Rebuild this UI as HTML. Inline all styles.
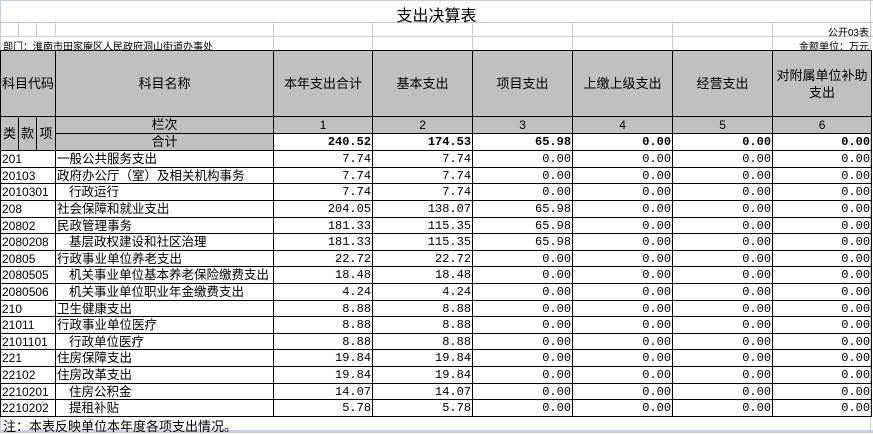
<!DOCTYPE html>
<html><head><meta charset="utf-8">
<style>
*{margin:0;padding:0;box-sizing:border-box}
body{width:873px;height:433px;background:#fff;position:relative;overflow:hidden;font-family:"Liberation Sans","Noto Sans CJK SC",sans-serif;color:#000}
.g{position:absolute;background:#c5cde0}
.t{position:absolute;white-space:nowrap}
table{position:absolute;left:0;top:50px;border-collapse:collapse;table-layout:fixed;width:871px}
td{border:1px solid #000;overflow:hidden;white-space:nowrap;font-size:12px;padding:0 1px;line-height:14px}
.h td{background:#c0c0c0;text-align:center;font-size:13px;height:66px;line-height:17px}
.gr{background:#c0c0c0;text-align:center}
.n{text-align:right;font-family:"Liberation Mono",monospace;font-size:12px}
.b{font-weight:bold}
.c{font-size:12px;padding-left:1px}
.nm{font-size:12.5px;padding-left:1px}
.i{padding-left:13px}
</style></head><body>
<div class="g" style="left:0;top:0;width:873px;height:1px"></div>
<div class="g" style="left:0;top:22px;width:873px;height:1px"></div>
<div class="g" style="left:0;top:36px;width:873px;height:1px"></div>
<div class="g" style="left:0;top:0;width:1px;height:433px"></div>
<div class="g" style="left:870px;top:0;width:1px;height:433px"></div>
<div class="g" style="left:18px;top:22px;width:1px;height:14px"></div>
<div class="g" style="left:36px;top:22px;width:1px;height:14px"></div>
<div class="g" style="left:55px;top:22px;width:1px;height:14px"></div>
<div class="g" style="left:273px;top:22px;width:1px;height:28px"></div>
<div class="g" style="left:372px;top:22px;width:1px;height:28px"></div>
<div class="g" style="left:472px;top:22px;width:1px;height:28px"></div>
<div class="g" style="left:572px;top:22px;width:1px;height:28px"></div>
<div class="g" style="left:672px;top:22px;width:1px;height:28px"></div>
<div class="g" style="left:772px;top:22px;width:1px;height:28px"></div>
<div class="g" style="left:0;top:430px;width:873px;height:3px"></div>
<div class="t" style="left:0;width:873px;text-align:center;top:2px;font-size:16px">支出决算表</div>
<div class="t" style="right:4px;top:24px;font-size:10px">公开03表</div>
<div class="t" style="left:3px;top:38px;font-size:10px">部门：淮南市田家庵区人民政府洞山街道办事处</div>
<div class="t" style="right:4px;top:38px;font-size:10px">金额单位：万元</div>
<table>
<colgroup><col style="width:18px"><col style="width:18px"><col style="width:19px"><col style="width:218px"><col style="width:99px"><col style="width:100px"><col style="width:100px"><col style="width:100px"><col style="width:100px"><col style="width:99px"></colgroup>
<tr class="h"><td colspan="3">科目代码</td><td>科目名称</td><td>本年支出合计</td><td>基本支出</td><td>项目支出</td><td>上缴上级支出</td><td>经营支出</td><td>对附属单位补助<br>支出</td></tr>
<tr style="height:17px"><td rowspan="2" class="gr" style="font-size:13px;padding:0">类</td><td rowspan="2" class="gr" style="font-size:13px;padding:0">款</td><td rowspan="2" class="gr" style="font-size:13px;padding:0">项</td><td class="gr" style="font-size:13px">栏次</td><td class="gr">1</td><td class="gr">2</td><td class="gr">3</td><td class="gr">4</td><td class="gr">5</td><td class="gr">6</td></tr>
<tr style="height:17px"><td class="gr" style="font-size:13px">合计</td><td class="n b">240.52</td><td class="n b">174.53</td><td class="n b">65.98</td><td class="n b">0.00</td><td class="n b">0.00</td><td class="n b">0.00</td></tr>
<tr style="height:17px"><td colspan="3" class="c">201</td><td class="nm">一般公共服务支出</td><td class="n">7.74</td><td class="n">7.74</td><td class="n">0.00</td><td class="n">0.00</td><td class="n">0.00</td><td class="n">0.00</td></tr>
<tr style="height:16px"><td colspan="3" class="c">20103</td><td class="nm">政府办公厅（室）及相关机构事务</td><td class="n">7.74</td><td class="n">7.74</td><td class="n">0.00</td><td class="n">0.00</td><td class="n">0.00</td><td class="n">0.00</td></tr>
<tr style="height:17px"><td colspan="3" class="c">2010301</td><td class="nm i">行政运行</td><td class="n">7.74</td><td class="n">7.74</td><td class="n">0.00</td><td class="n">0.00</td><td class="n">0.00</td><td class="n">0.00</td></tr>
<tr style="height:17px"><td colspan="3" class="c">208</td><td class="nm">社会保障和就业支出</td><td class="n">204.05</td><td class="n">138.07</td><td class="n">65.98</td><td class="n">0.00</td><td class="n">0.00</td><td class="n">0.00</td></tr>
<tr style="height:16px"><td colspan="3" class="c">20802</td><td class="nm">民政管理事务</td><td class="n">181.33</td><td class="n">115.35</td><td class="n">65.98</td><td class="n">0.00</td><td class="n">0.00</td><td class="n">0.00</td></tr>
<tr style="height:17px"><td colspan="3" class="c">2080208</td><td class="nm i">基层政权建设和社区治理</td><td class="n">181.33</td><td class="n">115.35</td><td class="n">65.98</td><td class="n">0.00</td><td class="n">0.00</td><td class="n">0.00</td></tr>
<tr style="height:16px"><td colspan="3" class="c">20805</td><td class="nm">行政事业单位养老支出</td><td class="n">22.72</td><td class="n">22.72</td><td class="n">0.00</td><td class="n">0.00</td><td class="n">0.00</td><td class="n">0.00</td></tr>
<tr style="height:17px"><td colspan="3" class="c">2080505</td><td class="nm i">机关事业单位基本养老保险缴费支出</td><td class="n">18.48</td><td class="n">18.48</td><td class="n">0.00</td><td class="n">0.00</td><td class="n">0.00</td><td class="n">0.00</td></tr>
<tr style="height:17px"><td colspan="3" class="c">2080506</td><td class="nm i">机关事业单位职业年金缴费支出</td><td class="n">4.24</td><td class="n">4.24</td><td class="n">0.00</td><td class="n">0.00</td><td class="n">0.00</td><td class="n">0.00</td></tr>
<tr style="height:16px"><td colspan="3" class="c">210</td><td class="nm">卫生健康支出</td><td class="n">8.88</td><td class="n">8.88</td><td class="n">0.00</td><td class="n">0.00</td><td class="n">0.00</td><td class="n">0.00</td></tr>
<tr style="height:17px"><td colspan="3" class="c">21011</td><td class="nm">行政事业单位医疗</td><td class="n">8.88</td><td class="n">8.88</td><td class="n">0.00</td><td class="n">0.00</td><td class="n">0.00</td><td class="n">0.00</td></tr>
<tr style="height:16px"><td colspan="3" class="c">2101101</td><td class="nm i">行政单位医疗</td><td class="n">8.88</td><td class="n">8.88</td><td class="n">0.00</td><td class="n">0.00</td><td class="n">0.00</td><td class="n">0.00</td></tr>
<tr style="height:17px"><td colspan="3" class="c">221</td><td class="nm">住房保障支出</td><td class="n">19.84</td><td class="n">19.84</td><td class="n">0.00</td><td class="n">0.00</td><td class="n">0.00</td><td class="n">0.00</td></tr>
<tr style="height:17px"><td colspan="3" class="c">22102</td><td class="nm">住房改革支出</td><td class="n">19.84</td><td class="n">19.84</td><td class="n">0.00</td><td class="n">0.00</td><td class="n">0.00</td><td class="n">0.00</td></tr>
<tr style="height:16px"><td colspan="3" class="c">2210201</td><td class="nm i">住房公积金</td><td class="n">14.07</td><td class="n">14.07</td><td class="n">0.00</td><td class="n">0.00</td><td class="n">0.00</td><td class="n">0.00</td></tr>
<tr style="height:17px"><td colspan="3" class="c">2210202</td><td class="nm i">提租补贴</td><td class="n">5.78</td><td class="n">5.78</td><td class="n">0.00</td><td class="n">0.00</td><td class="n">0.00</td><td class="n">0.00</td></tr>
</table>
<div class="t" style="left:3px;top:416px;font-size:13px">注：本表反映单位本年度各项支出情况。</div>
</body></html>
